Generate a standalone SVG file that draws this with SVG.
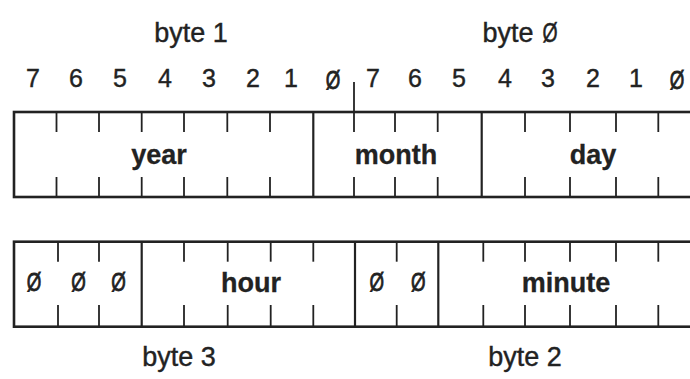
<svg xmlns="http://www.w3.org/2000/svg" width="690" height="379" viewBox="0 0 690 379">
<style>
.box{fill:none;stroke:#222;stroke-width:2.6}
.div{stroke:#222;stroke-width:2.2}
.tick{stroke:#222;stroke-width:1.8}
.bit{font-family:"Liberation Sans",Arial,sans-serif;font-size:25px;fill:#222;stroke:#222;stroke-width:0.4;text-anchor:middle}
.z{font-family:"Liberation Sans",Arial,sans-serif;font-size:26px;fill:#222;stroke:#222;stroke-width:0.8;text-anchor:middle}
.byte{font-family:"Liberation Sans",Arial,sans-serif;font-size:27px;fill:#222;stroke:#222;stroke-width:0.4;text-anchor:middle}
.lbl{font-family:"Liberation Sans",Arial,sans-serif;font-size:27px;font-weight:bold;fill:#222;stroke:#222;stroke-width:0.3;text-anchor:middle}
</style>
<rect width="690" height="379" fill="#fff"/>
<g id="labels">
<text class="byte" x="191" y="42">byte 1</text>
<text class="byte" x="508" y="42">byte</text>
<text class="z" transform="translate(550,42) scale(0.72,1)" style="font-size:27px;stroke-width:0.5">Ø</text>
<text class="byte" x="179" y="366">byte 3</text>
<text class="byte" x="525" y="366">byte 2</text>
<text class="bit" x="33" y="87">7</text>
<text class="bit" x="76" y="87">6</text>
<text class="bit" x="120" y="87">5</text>
<text class="bit" x="165" y="87">4</text>
<text class="bit" x="209" y="87">3</text>
<text class="bit" x="253" y="87">2</text>
<text class="bit" x="291" y="87">1</text>
<text class="z" transform="translate(333,89) scale(0.72,1)">Ø</text>
<text class="bit" x="373" y="87">7</text>
<text class="bit" x="415" y="87">6</text>
<text class="bit" x="459" y="87">5</text>
<text class="bit" x="505" y="87">4</text>
<text class="bit" x="548" y="87">3</text>
<text class="bit" x="593" y="87">2</text>
<text class="bit" x="636" y="87">1</text>
<text class="z" transform="translate(677,89) scale(0.72,1)">Ø</text>
</g>
<g id="byte-marker">
<line class="tick" x1="354" y1="82" x2="354" y2="112"/>
</g>
<g id="row1">
<rect class="box" x="14" y="112" width="700" height="85"/>
<g id="year">
<line class="tick" x1="56.5" y1="112" x2="56.5" y2="132"/><line class="tick" x1="56.5" y1="177" x2="56.5" y2="197"/>
<line class="tick" x1="99" y1="112" x2="99" y2="132"/><line class="tick" x1="99" y1="177" x2="99" y2="197"/>
<line class="tick" x1="141.7" y1="112" x2="141.7" y2="132"/><line class="tick" x1="141.7" y1="177" x2="141.7" y2="197"/>
<line class="tick" x1="184" y1="112" x2="184" y2="132"/><line class="tick" x1="184" y1="177" x2="184" y2="197"/>
<line class="tick" x1="227.3" y1="112" x2="227.3" y2="132"/><line class="tick" x1="227.3" y1="177" x2="227.3" y2="197"/>
<line class="tick" x1="270" y1="112" x2="270" y2="132"/><line class="tick" x1="270" y1="177" x2="270" y2="197"/>
<text class="lbl" x="159" y="164">year</text>
</g>
<line class="div" x1="313.3" y1="112" x2="313.3" y2="197"/>
<g id="month">
<line class="tick" x1="354" y1="112" x2="354" y2="132"/><line class="tick" x1="354" y1="177" x2="354" y2="197"/>
<line class="tick" x1="395" y1="112" x2="395" y2="132"/><line class="tick" x1="395" y1="177" x2="395" y2="197"/>
<line class="tick" x1="437.7" y1="112" x2="437.7" y2="132"/><line class="tick" x1="437.7" y1="177" x2="437.7" y2="197"/>
<text class="lbl" x="396" y="164">month</text>
</g>
<line class="div" x1="481.7" y1="112" x2="481.7" y2="197"/>
<g id="day">
<line class="tick" x1="525" y1="112" x2="525" y2="132"/><line class="tick" x1="525" y1="177" x2="525" y2="197"/>
<line class="tick" x1="570" y1="112" x2="570" y2="132"/><line class="tick" x1="570" y1="177" x2="570" y2="197"/>
<line class="tick" x1="616" y1="112" x2="616" y2="132"/><line class="tick" x1="616" y1="177" x2="616" y2="197"/>
<line class="tick" x1="658.3" y1="112" x2="658.3" y2="132"/><line class="tick" x1="658.3" y1="177" x2="658.3" y2="197"/>
<text class="lbl" x="593" y="164">day</text>
</g>
</g>
<g id="row2">
<rect class="box" x="14" y="241.7" width="700" height="85"/>
<g id="zeros3">
<line class="tick" x1="58" y1="241.7" x2="58" y2="261.7"/><line class="tick" x1="58" y1="305" x2="58" y2="326.7"/>
<line class="tick" x1="99" y1="241.7" x2="99" y2="261.7"/><line class="tick" x1="99" y1="305" x2="99" y2="326.7"/>
<text class="z" transform="translate(34,291) scale(0.72,1)">Ø</text>
<text class="z" transform="translate(78.5,291) scale(0.72,1)">Ø</text>
<text class="z" transform="translate(118.5,291) scale(0.72,1)">Ø</text>
</g>
<line class="div" x1="141.7" y1="241.7" x2="141.7" y2="326.7"/>
<g id="hour">
<line class="tick" x1="184" y1="241.7" x2="184" y2="261.7"/><line class="tick" x1="184" y1="305" x2="184" y2="326.7"/>
<line class="tick" x1="227.7" y1="241.7" x2="227.7" y2="261.7"/><line class="tick" x1="227.7" y1="305" x2="227.7" y2="326.7"/>
<line class="tick" x1="270.7" y1="241.7" x2="270.7" y2="261.7"/><line class="tick" x1="270.7" y1="305" x2="270.7" y2="326.7"/>
<line class="tick" x1="313.3" y1="241.7" x2="313.3" y2="261.7"/><line class="tick" x1="313.3" y1="305" x2="313.3" y2="326.7"/>
<text class="lbl" x="251" y="292">hour</text>
</g>
<line class="div" x1="355" y1="241.7" x2="355" y2="326.7"/>
<g id="zeros2">
<line class="tick" x1="396.7" y1="241.7" x2="396.7" y2="261.7"/><line class="tick" x1="396.7" y1="305" x2="396.7" y2="326.7"/>
<text class="z" transform="translate(376.7,291) scale(0.72,1)">Ø</text>
<text class="z" transform="translate(418.3,291) scale(0.72,1)">Ø</text>
</g>
<line class="div" x1="438.3" y1="241.7" x2="438.3" y2="326.7"/>
<g id="minute">
<line class="tick" x1="483.3" y1="241.7" x2="483.3" y2="261.7"/><line class="tick" x1="483.3" y1="305" x2="483.3" y2="326.7"/>
<line class="tick" x1="525" y1="241.7" x2="525" y2="261.7"/><line class="tick" x1="525" y1="305" x2="525" y2="326.7"/>
<line class="tick" x1="570" y1="241.7" x2="570" y2="261.7"/><line class="tick" x1="570" y1="305" x2="570" y2="326.7"/>
<line class="tick" x1="616" y1="241.7" x2="616" y2="261.7"/><line class="tick" x1="616" y1="305" x2="616" y2="326.7"/>
<line class="tick" x1="658.3" y1="241.7" x2="658.3" y2="261.7"/><line class="tick" x1="658.3" y1="305" x2="658.3" y2="326.7"/>
<text class="lbl" x="566" y="292">minute</text>
</g>
</g>
</svg>
